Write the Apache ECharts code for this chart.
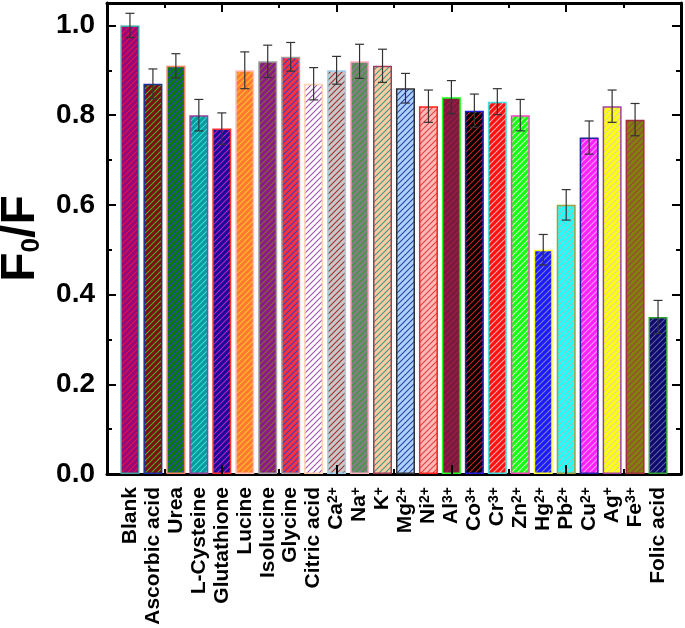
<!DOCTYPE html>
<html>
<head>
<meta charset="utf-8">
<script src="https://cdn.jsdelivr.net/npm/echarts@6/dist/echarts.min.js"></script>
<style>
html,body{margin:0;padding:0;background:#fff}
#main{width:685px;height:628px}
</style>
</head>
<body>
<div id="main"></div>
<script>
// category labels, {s|..} marks a superscript charge
const labels = ['Blank','Ascorbic acid','Urea','L-Cysteine','Glutathione','Lucine','Isolucine','Glycine',
  'Citric acid','Ca{s|2+}','Na{s|+}','K{s|+}','Mg{s|2+}','Ni{s|2+}','Al{s|3+}','Co{s|3+}',
  'Cr{s|3+}','Zn{s|2+}','Hg{s|2+}','Pb{s|2+}','Cu{s|2+}','Ag{s|+}','Fe{s|3+}','Folic acid'];
const values = [1.00,0.87,0.91,0.80,0.77,0.90,0.92,0.93,0.87,0.90,0.92,0.91,0.86,0.82,0.84,0.81,0.83,0.80,0.50,0.60,0.75,0.82,0.79,0.35];
const errors = [0.027,0.033,0.027,0.035,0.035,0.041,0.036,0.032,0.036,0.031,0.038,0.037,0.033,0.036,0.037,0.037,0.029,0.035,0.034,0.034,0.037,0.036,0.036,0.037];
const yTicks = ['0.0','0.2','0.4','0.6','0.8','1.0'];

// fill / hatch line / border colours per bar
const fills = ['#950a7a','#7a1010','#0a7a0a','#0a9a9a','#1a0a9a','#ff7a30','#8a1a8a','#ff3040',
  '#ffffff','#c8c8c8','#808080','#ffcca0','#aad4ff','#ffb8b8','#7a1a40','#000000',
  '#ff1010','#10ff10','#1a1aff','#20ffff','#ff20ff','#ffff10','#80800a','#0a0a70'];
const hatches = ['#e8104a','#4caf2a','#2a3fd0','#30dede','#c020c0','#ffc030','#8a6a2a','#3040c0',
  '#a050b0','#a03030','#30a030','#3a9a8a','#3040a0','#e04040','#a02040','#d02020',
  '#ffb0b0','#d0f0c0','#8080c0','#a0c0c0','#ffa0ff','#e0d0a0','#a04040','#6060a0'];
const borders = ['#3f9f9f','#1c2f9a','#f08060','#9a3f9a','#ff3030','#ffc0c0','#a0a0a0','#a0a0a0',
  '#ffd0b0','#a0d0f0','#ffb0c0','#a03a5a','#303030','#ff2020','#20ff20','#2020e0',
  '#40e0e0','#ff40c0','#ffff30','#a0a040','#2020a0','#a040a0','#a03040','#30a030'];

const font = "'Liberation Sans', Arial, sans-serif";

function hatch(bg, fg) {
  const c = document.createElement('canvas');
  c.width = 6; c.height = 6;
  const g = c.getContext('2d');
  g.fillStyle = bg; g.fillRect(0, 0, 6, 6);
  g.strokeStyle = fg; g.lineWidth = 1.1;
  g.beginPath();
  g.moveTo(-1, 7); g.lineTo(7, -1);
  g.moveTo(-1, 1); g.lineTo(1, -1);
  g.moveTo(5, 7); g.lineTo(7, 5);
  g.stroke();
  return {image: c, repeat: 'repeat'};
}

const chart = echarts.init(document.getElementById('main'));

const frame = () => ({show: true, onZero: false, lineStyle: {color: '#000', width: 3}});
const noLine = () => ({show: false, onZero: false});
const majTick = () => ({show: true, inside: true, length: 9, lineStyle: {color: '#000', width: 2}});
const minTick = () => ({show: true, inside: true, length: 5, lineStyle: {color: '#000', width: 2}});
const minorX = () => ({show: true, splitNumber: 2, length: 5, lineStyle: {color: '#000', width: 2}});

chart.setOption({
  animation: false,
  grid: {left: 107, right: 4, top: 3, bottom: 154, containLabel: false, outerBoundsMode: 'none'},
  xAxis: [
    {
      type: 'value', position: 'bottom', min: 0, max: 25, interval: 1,
      axisLine: frame(), axisTick: {show: false}, splitLine: {show: false},
      axisLabel: {
        rotate: 90, margin: 13, color: '#000', fontSize: 21, fontWeight: 'bold', fontFamily: font,
        formatter: v => (v >= 1 && v <= labels.length) ? labels[v - 1] : '',
        rich: {s: {fontSize: 14, fontWeight: 'bold', fontFamily: font, color: '#000', verticalAlign: 'top', lineHeight: 12}}
      }
    },
    {
      type: 'value', position: 'bottom', min: 0, max: 25, interval: 5, z: 5,
      axisLine: noLine(), axisTick: majTick(), minorTick: minorX(),
      axisLabel: {show: false}, splitLine: {show: false}
    },
    {
      type: 'value', position: 'top', min: 0, max: 25, interval: 5,
      axisLine: frame(), axisTick: majTick(), minorTick: minorX(),
      axisLabel: {show: false}, splitLine: {show: false}
    }
  ],
  yAxis: [
    {
      type: 'value', position: 'left', min: 0, max: 1.05, interval: 0.2,
      axisLine: frame(), axisTick: majTick(), splitLine: {show: false},
      axisLabel: {
        margin: 12, color: '#000', fontSize: 28, fontWeight: 'bold', fontFamily: font,
        showMaxLabel: false, formatter: v => yTicks[Math.round(v / 0.2)] || ''
      },
      name: '{f|F}{b|0}{f|/F}', nameLocation: 'middle', nameRotate: 90, nameGap: 62, nameMoveOverlap: false,
      nameTextStyle: {
        rich: {
          f: {fontSize: 48, fontWeight: 'bold', fontFamily: font, color: '#000', lineHeight: 48},
          b: {fontSize: 26, fontWeight: 'bold', fontFamily: font, color: '#000', lineHeight: 12, verticalAlign: 'bottom'}
        }
      }
    },
    {
      type: 'value', position: 'left', min: 0, max: 1.05, interval: 0.1,
      axisLine: noLine(), axisTick: minTick(), axisLabel: {show: false}, splitLine: {show: false}
    },
    {
      type: 'value', position: 'right', min: 0, max: 1.05, interval: 0.2,
      axisLine: frame(), axisTick: majTick(), axisLabel: {show: false}, splitLine: {show: false}
    },
    {
      type: 'value', position: 'right', min: 0, max: 1.05, interval: 0.1,
      axisLine: noLine(), axisTick: minTick(), axisLabel: {show: false}, splitLine: {show: false}
    }
  ],
  series: [
    {
      type: 'bar', xAxisIndex: 0, yAxisIndex: 0, barWidth: 19,
      data: values.map((v, i) => ({
        value: [i + 1, v],
        itemStyle: {color: hatch(fills[i], hatches[i]), borderColor: borders[i], borderWidth: 1.5}
      }))
    },
    {
      type: 'custom', xAxisIndex: 0, yAxisIndex: 0, z: 3,
      data: values.map((v, i) => [i + 1, v - errors[i], v + errors[i]]),
      renderItem: function (params, api) {
        const lo = api.coord([api.value(0), api.value(1)]);
        const hi = api.coord([api.value(0), api.value(2)]);
        const w = 4.5;
        const st = {stroke: '#333', lineWidth: 1.2};
        return {type: 'group', children: [
          {type: 'line', shape: {x1: hi[0], y1: hi[1], x2: lo[0], y2: lo[1]}, style: st},
          {type: 'line', shape: {x1: hi[0] - w, y1: hi[1], x2: hi[0] + w, y2: hi[1]}, style: st},
          {type: 'line', shape: {x1: lo[0] - w, y1: lo[1], x2: lo[0] + w, y2: lo[1]}, style: st}
        ]};
      }
    }
  ]
});
</script>
</body>
</html>
